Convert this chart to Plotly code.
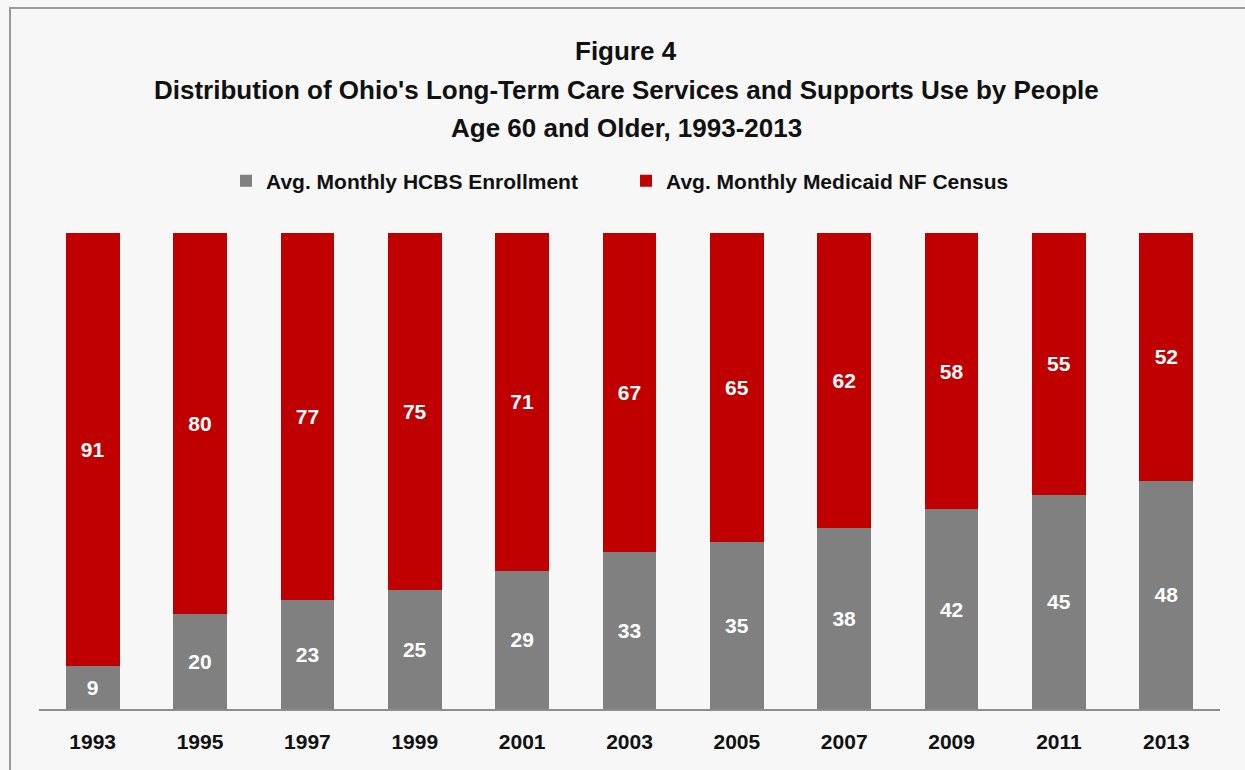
import plotly.graph_objects as go

years = ["1993", "1995", "1997", "1999", "2001", "2003", "2005", "2007", "2009", "2011", "2013"]
hcbs = [9, 20, 23, 25, 29, 33, 35, 38, 42, 45, 48]
nf = [91, 80, 77, 75, 71, 67, 65, 62, 58, 55, 52]

W, H = 1245, 770
ML, MR, MT, MB = 39, 25, 233, 61
PW = W - ML - MR
PH = H - MT - MB

def px_x(x):
    return (x - ML) / PW

def px_y(y):
    return (H - MB - y) / PH

FONT = "Liberation Sans, Arial, sans-serif"

fig = go.Figure()
fig.add_trace(go.Bar(
    x=years, y=hcbs, name="Avg. Monthly HCBS Enrollment",
    marker=dict(color="#808080", line=dict(width=0)),
    text=[str(v) for v in hcbs], textposition="inside", insidetextanchor="middle",
    textfont=dict(color="white", size=21, family=FONT, weight="bold"),
    constraintext="none",
))
fig.add_trace(go.Bar(
    x=years, y=nf, name="Avg. Monthly Medicaid NF Census",
    marker=dict(color="#c00000", line=dict(width=0)),
    text=[str(v) for v in nf], textposition="inside", insidetextanchor="middle",
    textfont=dict(color="white", size=21, family=FONT, weight="bold"),
    constraintext="none",
))

titles = [
    ("Figure 4", 51),
    ("Distribution of Ohio's Long-Term Care Services and Supports Use by People", 90),
    ("Age 60 and Older, 1993-2013", 128),
]
annotations = []
for txt, yp in titles:
    annotations.append(dict(
        text=txt, x=px_x(626), y=px_y(yp), xref="paper", yref="paper",
        xanchor="center", yanchor="middle", showarrow=False,
        font=dict(size=26, family=FONT, color="#111111", weight="bold"),
    ))

fig.update_layout(
    width=W, height=H,
    margin=dict(l=ML, r=MR, t=MT, b=MB),
    paper_bgcolor="#f7f7f7", plot_bgcolor="#f7f7f7",
    barmode="stack", bargap=0.5,
    showlegend=True,
    legend=dict(
        orientation="h", x=px_x(226), xanchor="left", y=px_y(181), yanchor="middle",
        font=dict(size=21, family=FONT, color="#111111", weight="bold"),
        itemwidth=30, traceorder="normal", bgcolor="rgba(0,0,0,0)",
        entrywidth=355, entrywidthmode="pixels",
    ),
    xaxis=dict(
        showline=True, linecolor="#8c8c8c", linewidth=2, ticks="",
        showgrid=False, zeroline=False,
        tickfont=dict(size=21, family=FONT, color="#111111", weight="bold"),
        ticklabelstandoff=13,
        range=[-0.5, 10.5],
    ),
    yaxis=dict(visible=False, range=[0, 100]),
    annotations=annotations,
    shapes=[dict(
        type="rect", xref="paper", yref="paper",
        x0=px_x(10), y0=px_y(8), x1=px_x(1260), y1=px_y(790),
        line=dict(color="#9a9a9a", width=2), fillcolor="rgba(0,0,0,0)", layer="below",
    )],
)

fig.write_html("out.html")
